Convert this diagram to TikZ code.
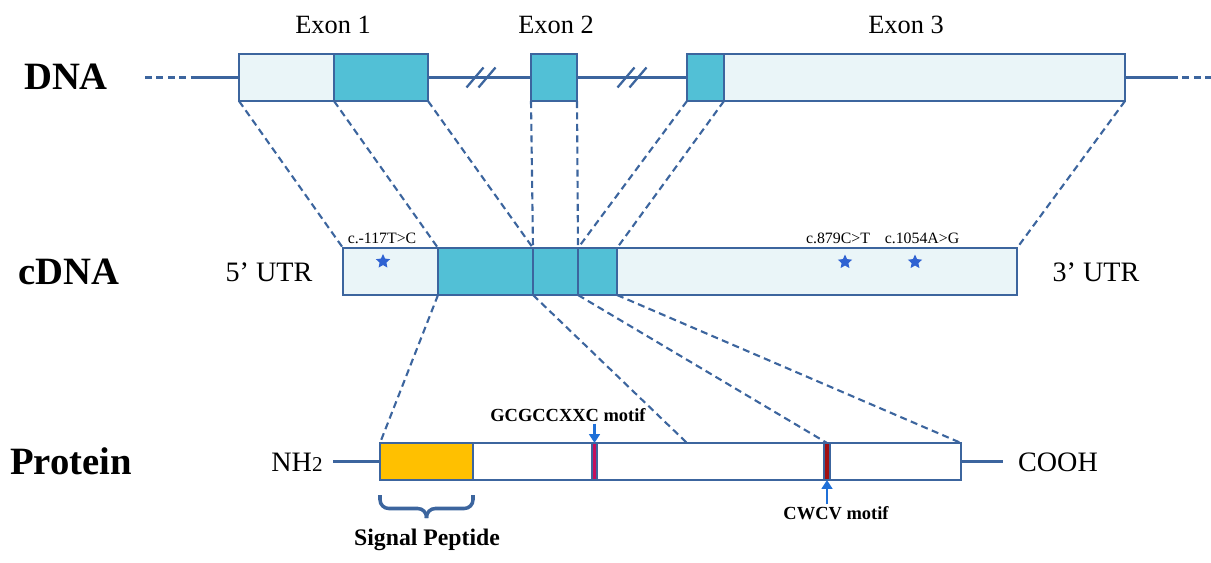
\documentclass[tikz,border=0pt]{standalone}
\usepackage{fontspec}
\setmainfont{Liberation Serif}
\usetikzlibrary{positioning,arrows.meta,shapes.geometric}

\definecolor{edgeblue}{HTML}{3C659E}
\definecolor{exondark}{HTML}{52C0D6}
\definecolor{exonlite}{HTML}{EAF5F8}
\definecolor{sigyellow}{HTML}{FFC000}
\definecolor{motifred}{HTML}{C4105C}
\definecolor{motifdark}{HTML}{A00F12}
\definecolor{starblue}{HTML}{2F62D2}
\definecolor{arrowblue}{HTML}{1F70D8}

\begin{document}
\begin{tikzpicture}[
    seg/.style={rectangle,draw=edgeblue,line width=1.5pt,outer sep=0pt,inner sep=0pt,minimum height=0.94cm},
    lite/.style={seg,fill=exonlite},
    deep/.style={seg,fill=exondark},
    pseg/.style={rectangle,draw=edgeblue,line width=1pt,outer sep=0pt,inner sep=0pt,minimum height=0.74cm},
    bar/.style={pseg,minimum width=0.11cm},
    bb/.style={draw=edgeblue,line width=1.5pt},
    link/.style={draw=edgeblue,line width=1.2pt,dash pattern=on 4pt off 2.5pt},
    rowlab/.style={font=\bfseries\fontsize{22}{24}\selectfont},
    lab/.style={font=\fontsize{16}{18}\selectfont},
    mut/.style={font=\fontsize{9}{10}\selectfont,inner sep=1pt},
    motiflab/.style={font=\bfseries\fontsize{10.5}{12}\selectfont,inner sep=1pt},
    snp/.style={star,star points=5,star point ratio=2.1,fill=starblue,inner sep=0pt,minimum size=0.3cm},
    upar/.style={draw=arrowblue,line width=1.3pt,-{Triangle[length=5pt,width=6pt]}}]

  \useasboundingbox (0,0) rectangle (24.22,-11.26);

  % row titles
  \node[rowlab] (tdna)  at (1.32,-1.54) {DNA};
  \node[rowlab] (tcdna) at (1.38,-5.44) {cDNA};
  \node[rowlab] (tprot) at (1.42,-9.22) {Protein};

  % genomic DNA
  \node[lite,minimum width=1.9cm,anchor=west] (e1a) at (4.78,-1.55) {};
  \node[deep,minimum width=1.88cm] (e1b) [right=0pt of e1a] {};
  \node[deep,minimum width=0.92cm,anchor=west] (e2) at (10.62,-1.55) {};
  \node[deep,minimum width=0.74cm,anchor=west] (e3a) at (13.74,-1.55) {};
  \node[lite,minimum width=8.02cm] (e3b) [right=0pt of e3a] {};

  \node[lab,font=\fontsize{15}{17}\selectfont] (x1) at (6.66,-0.5)  {Exon 1};
  \node[lab,font=\fontsize{15}{17}\selectfont] (x2) at (11.12,-0.5) {Exon 2};
  \node[lab,font=\fontsize{15}{17}\selectfont] (x3) at (18.12,-0.5) {Exon 3};

  \coordinate (dl0) at (2.9,-1.55);
  \coordinate (dl1) at (3.82,-1.55);
  \coordinate (dr1) at (23.42,-1.55);
  \coordinate (dr0) at (24.22,-1.55);
  \draw[bb,dash pattern=on 4pt off 2.5pt] (dl0) -- (dl1);
  \draw[bb] (dl1) -- (e1a.west);
  \draw[bb] (e3b.east) -- (dr1);
  \draw[bb,dash pattern=on 4pt off 2.5pt] (dr1) -- (dr0);
  \draw[bb] (e1b.east) -- (e2.west);
  \draw[bb] (e2.east) -- (e3a.west);
  % intron breaks
  \foreach \xb in {9.5,9.74,12.52,12.76}
    \draw[bb,line width=1.3pt] (\xb-0.17,-1.75) -- (\xb+0.17,-1.35);

  % cDNA
  \node[lite,minimum width=1.9cm,anchor=west] (c1) at (6.86,-5.43) {};
  \node[deep,minimum width=1.9cm]  (c2) [right=0pt of c1] {};
  \node[deep,minimum width=0.9cm]  (c3) [right=0pt of c2] {};
  \node[deep,minimum width=0.78cm] (c4) [right=0pt of c3] {};
  \node[lite,minimum width=8.0cm]  (c5) [right=0pt of c4] {};

  \node[lab] (utr5) at (5.38,-5.44)  {5’ UTR};
  \node[lab] (utr3) at (21.92,-5.44) {3’ UTR};

  \node[snp] (s1) at (7.66,-5.23) {};
  \node[snp] (s2) at (16.9,-5.24) {};
  \node[snp] (s3) at (18.3,-5.24) {};
  \node[mut] (m117)  at (7.64,-4.76)  {c.-117T>C};
  \node[mut] (m879)  at (16.76,-4.76) {c.879C>T};
  \node[mut] (m1054) at (18.44,-4.76) {c.1054A>G};

  \path[link] (e1a.south west) edge (c1.north west)
              (e1a.south east) edge (c2.north west)
              (e1b.south east) edge (c3.north west)
              (e2.south west)  edge (c3.north west)
              (e2.south east)  edge (c4.north west)
              (e3a.south west) edge (c4.north west)
              (e3a.south east) edge (c5.north west)
              (e3b.south east) edge (c5.north east);

  % protein
  \node[pseg,fill=sigyellow,minimum width=1.86cm,anchor=west] (sp) at (7.6,-9.23) {};
  \node[pseg,fill=white,minimum width=9.76cm] (pr) [right=0pt of sp] {};
  \node[bar,fill=motifred]  (mo1) at (11.89,-9.23) {};
  \node[bar,fill=motifdark] (mo2) at (16.54,-9.23) {};

  \coordinate (nh) at (6.66,-9.23);
  \coordinate (co) at (20.06,-9.23);
  \draw[draw=edgeblue,line width=1.2pt] (nh) -- (sp.west);
  \draw[draw=edgeblue,line width=1.2pt] (pr.east) -- (co);
  \node[lab] (tnh) at (5.94,-9.24)  {NH{\fontsize{12}{14}\selectfont 2}};
  \node[lab] (tco) at (21.16,-9.24) {COOH};

  \node[motiflab] (g1) at (11.36,-8.3)  {GCGCCXXC motif};
  \node[motiflab] (cw) at (16.72,-10.26) {CWCV motif};
  \draw[upar] (mo1.north |- g1.south) -- (mo1.north);
  \draw[upar] (mo2.south |- cw.north) -- (mo2.south);

  \coordinate (p2) at (13.74,-8.86);
  \path[link] (c2.south west) edge (sp.north west)
              (c3.south west) edge (p2)
              (c4.south west) edge (mo2.north)
              (c4.south east) edge (pr.north east);

  % signal peptide bracket
  \coordinate (bl) at ([yshift=-0.3cm]sp.south west);
  \coordinate (br) at ([yshift=-0.3cm]sp.south east);
  \coordinate (tip) at ([yshift=-0.76cm]sp.south);
  \draw[draw=edgeblue,line width=2pt,rounded corners=5pt]
    (bl) -- ++(0,-0.27) -| (tip);
  \draw[draw=edgeblue,line width=2pt,rounded corners=5pt]
    (br) -- ++(0,-0.27) -| (tip);
  \node[font=\bfseries\fontsize{13.5}{15}\selectfont] (sig) at (8.54,-10.8) {Signal Peptide};
\end{tikzpicture}
\end{document}
